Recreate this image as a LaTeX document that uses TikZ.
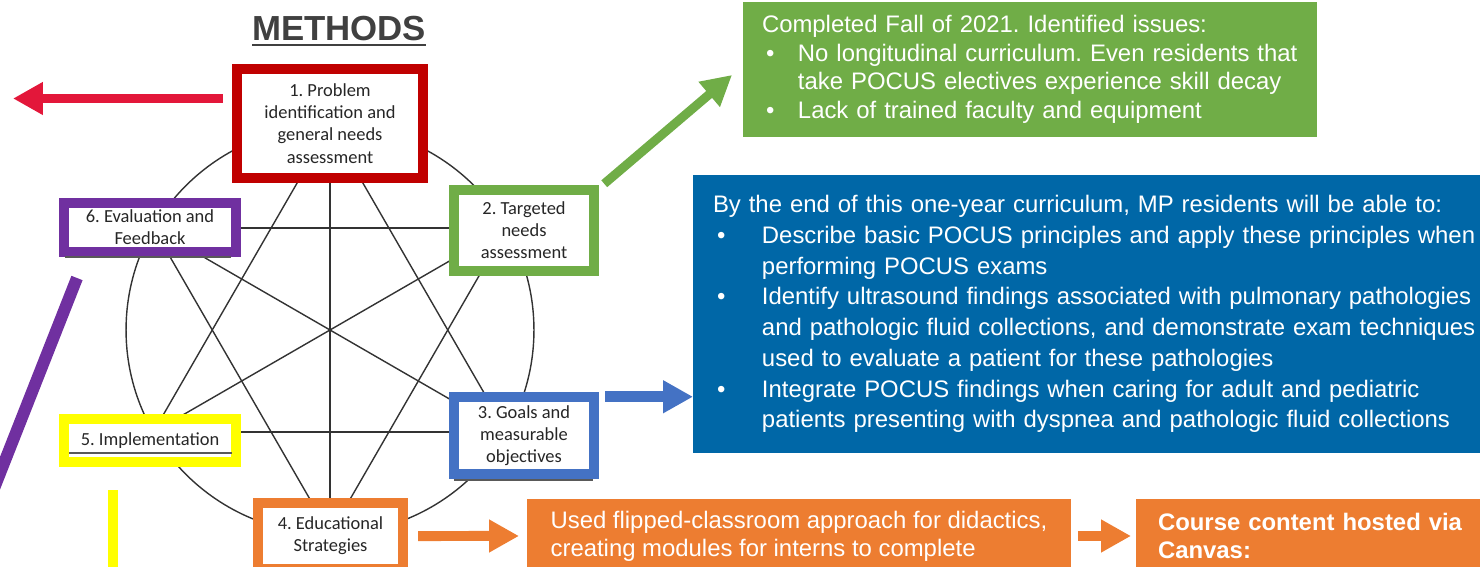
\documentclass[tikz,border=0pt]{standalone}
\usepackage{fontspec}
\setmainfont{Liberation Sans}
\newfontfamily\stepfont{Carlito}
\usetikzlibrary{arrows.meta}
\frenchspacing

\definecolor{stepred}{HTML}{C00000}
\definecolor{arrowred}{HTML}{E3173A}
\definecolor{stepgreen}{HTML}{70AD47}
\definecolor{stepblue}{HTML}{4472C4}
\definecolor{steporange}{HTML}{ED7D31}
\definecolor{stepyellow}{HTML}{FFFF00}
\definecolor{steppurple}{HTML}{7030A0}
\definecolor{objblue}{HTML}{0067A7}
\definecolor{titlegray}{HTML}{404040}
\definecolor{wheelgray}{HTML}{333333}
\definecolor{shadegray}{HTML}{595959}
\definecolor{textgray}{HTML}{262626}

\newcommand{\itembul}[1]{\makebox[#1][l]{\hspace{0.08cm}\textbullet}}
\newcommand{\thickuline}[1]{\vtop{\hbox{#1}\kern1.3pt\hrule height 1.1pt}}

\tikzset{
  stepbox/.style={draw=#1, line width=0.19cm, fill=white, inner sep=0pt, outer sep=0pt,
    align=center, text=textgray, font=\stepfont\fontsize{10.5}{12.6}\selectfont},
  infobox/.style={fill=#1, text=white, anchor=north west, inner ysep=0pt, outer sep=0pt, align=left},
  blockarrow/.style={color=#1, -{Triangle[length=0.6cm, width=0.62cm]}},
  wheelline/.style={draw=wheelgray, line width=0.8pt},
  shadeline/.style={draw=shadegray, line width=0.04cm},
}

\begin{document}
\begin{tikzpicture}[x=0.02cm, y=-0.02cm]
  \useasboundingbox (0,0) rectangle (1480,567);
  \clip (0,0) rectangle (1480,567);

  % Title
  \node[anchor=base, text=titlegray, font=\bfseries\fontsize{19.8}{24}\selectfont] (title) at (339,41) {\thickuline{METHODS}};

  % Wheel: circle with six points and the diagonals between them
  \begin{scope}[shift={(330,330)}]
    \draw[wheelline] (0,0) circle (4.08cm);
    \foreach \i/\ang in {1/90,2/30,3/-30,4/-90,5/-150,6/150} {
      \coordinate (v\i) at (\ang:4.08cm);
    }
  \end{scope}
  \foreach \a/\b in {1/3,1/4,1/5,2/4,2/5,2/6,3/5,3/6,4/6} {
    \draw[wheelline] (v\a) -- (v\b);
  }

  % The six steps
  \node[stepbox=stepred, minimum width=3.73cm, minimum height=2.19cm] (problem) at (330,123.5)
    {1. Problem\\identification and\\general needs\\assessment};
  \node[stepbox=stepgreen, minimum width=2.81cm, minimum height=1.63cm] (targeted) at (524,230.5)
    {2. Targeted\\needs\\assessment};
  \node[stepbox=stepblue, minimum width=2.81cm, minimum height=1.55cm] (goals) at (524,435.5)
    {3. Goals and\\measurable\\objectives};
  \node[stepbox=steporange, minimum width=2.91cm, minimum height=1.33cm] (strategies) at (330.5,536)
    {4. Educational\\Strategies};
  \node[stepbox=stepyellow, minimum width=3.45cm, minimum height=0.87cm] (implementation) at (150,440.5)
    {5. Implementation};
  \node[stepbox=steppurple, minimum width=3.45cm, minimum height=0.99cm] (evaluation) at (150,227.5)
    {6. Evaluation and\\Feedback};

  % dark edges under some boxes
  \draw[shadeline] ([shift={(1,5)}]evaluation.south west) -- ([shift={(-5,5)}]evaluation.south east);
  \draw[shadeline] ([shift={(5,-9)}]implementation.south west) -- ([shift={(-4,-9)}]implementation.south east);
  \draw[shadeline] ([shift={(0,6)}]goals.south west) -- ([shift={(-1,6)}]goals.south east);

  % Text boxes
  \node[infobox=stepgreen, inner xsep=0.38cm, text width=10.72cm, minimum height=2.7cm,
    font=\fontsize{13.6}{16.3}\selectfont] (issues) at (743,2)
    {Completed Fall of 2021. Identified issues:\\
     \itembul{0.72cm}No longitudinal curriculum. Even residents that\\
     \hspace*{0.72cm}take POCUS electives experience skill decay\\
     \itembul{0.72cm}Lack of trained faculty and equipment};

  \node[infobox=objblue, inner xsep=0.4cm, text width=15.34cm, minimum height=5.56cm,
    font=\fontsize{13.6}{17.5}\selectfont] (objectives) at (693,175)
    {By the end of this one-year curriculum, MP residents will be able to:\\
     \itembul{0.98cm}Describe basic POCUS principles and apply these principles when\\
     \hspace*{0.98cm}performing POCUS exams\\
     \itembul{0.98cm}Identify ultrasound findings associated with pulmonary pathologies\\
     \hspace*{0.98cm}and pathologic fluid collections, and demonstrate exam techniques\\
     \hspace*{0.98cm}used to evaluate a patient for these pathologies\\
     \itembul{0.98cm}Integrate POCUS findings when caring for adult and pediatric\\
     \hspace*{0.98cm}patients presenting with dyspnea and pathologic fluid collections};

  \node[infobox=steporange, inner xsep=0pt, minimum width=10.88cm, minimum height=1.48cm,
    font=\fontsize{13.6}{15.9}\selectfont] (flipped) at (527,499)
    {Used flipped-classroom approach for didactics,\\
     creating modules for interns to complete};

  \node[infobox=steporange, inner xsep=0.44cm, text width=6.4cm, minimum height=1.48cm,
    font=\bfseries\fontsize{13.6}{15.9}\selectfont] (canvas) at (1136,499)
    {Course content hosted via\\Canvas:};

  % Arrows
  \coordinate (redend) at (13,98.5);
  \draw[blockarrow=arrowred, line width=0.18cm] ([shift={(-14,-25)}]problem.west) -- (redend);
  \draw[blockarrow=stepgreen, line width=0.18cm] ([shift={(10,-6)}]targeted.north east) -- ([shift={(-11,73)}]issues.north west);
  \coordinate (goalsout) at ([shift={(11,0)}]goals.north east);
  \draw[blockarrow=stepblue, line width=0.22cm] (goalsout) -- (goalsout -| objectives.west);
  \draw[blockarrow=steporange, line width=0.2cm] ([shift={(15,0)}]strategies.east) -- ([shift={(-8,0)}]flipped.west);
  \draw[blockarrow=steporange, line width=0.2cm] ([shift={(7,0)}]flipped.east) -- ([shift={(-5,0)}]canvas.west);

  % Lines leaving the picture
  \coordinate (purpletop) at (77,278);
  \coordinate (purpleend) at (-50,600);
  \draw[steppurple, line width=0.24cm] (purpletop) -- (purpleend);
  \coordinate (yellowtop) at (112.5,490);
  \coordinate (yellowend) at (112.5,600);
  \draw[stepyellow, line width=0.2cm] (yellowtop) -- (yellowend);
\end{tikzpicture}
\end{document}
